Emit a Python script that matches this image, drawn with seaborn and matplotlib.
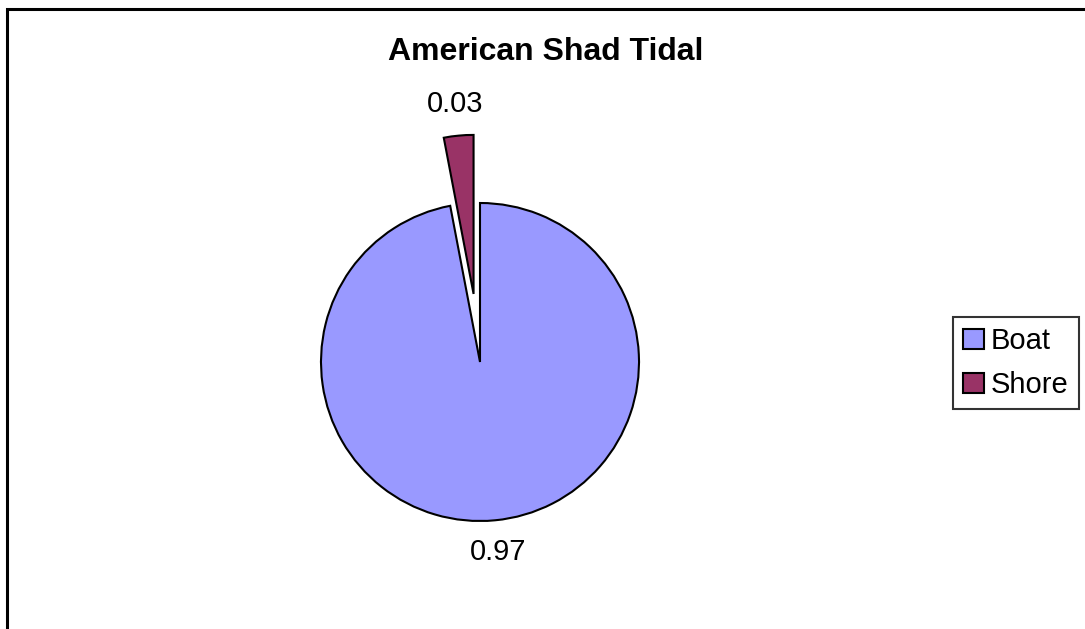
import matplotlib
matplotlib.use("Agg")
import matplotlib.pyplot as plt
import seaborn as sns
from matplotlib.patches import Rectangle

# data
categories = ["Boat", "Shore"]
shares = [0.97, 0.03]
slice_colors = ["#9999FF", "#993366"]
explode = [0.0, 0.43]
title = "American Shad Tidal"

sns.set_theme(style="white")
plt.rcParams["font.family"] = ["Liberation Sans", "DejaVu Sans"]
plt.rcParams["text.color"] = "black"

fig = plt.figure(figsize=(10.85, 6.29), dpi=100)

# outer chart frame (runs off the right / bottom edge like the original)
fig.patches.append(Rectangle((7 / 1085, -0.2), 1.2, 1.2 - 9 / 629,
                             transform=fig.transFigure, fill=False,
                             edgecolor="black", linewidth=2.2))

# square axes around the pie (pie radius ~159 px)
ax = fig.add_axes([230 / 1085, 17 / 629, 500 / 1085, 500 / 629])
lim = 250 / 159
wedges, texts, autotexts = ax.pie(
    shares,
    colors=slice_colors,
    explode=explode,
    startangle=90,
    counterclock=False,
    autopct=lambda p: f"{p / 100:.2f}",
    pctdistance=1.2,
    wedgeprops=dict(edgecolor="black", linewidth=1.5),
    textprops=dict(fontsize=21, color="black"),
)
ax.set_xlim(-lim, lim)
ax.set_ylim(-lim, lim)
ax.set_aspect("equal")
ax.axis("off")

fig.text(546 / 1085, 1 - 52 / 629, title, ha="center", va="center",
         fontsize=23, fontweight="bold", color="black")

leg = fig.legend(wedges, categories, loc="center left",
                 bbox_to_anchor=(953 / 1085, 1 - 363 / 629),
                 fontsize=21, frameon=True, fancybox=False, shadow=False,
                 handlelength=0.7, handleheight=0.7, handletextpad=0.25,
                 labelspacing=0.55, borderpad=0.35, borderaxespad=0)
leg.get_frame().set_edgecolor("black")
leg.get_frame().set_linewidth(1.5)
for t in leg.get_texts():
    t.set_color("black")

fig.savefig("out.png", dpi=100, facecolor="white")
